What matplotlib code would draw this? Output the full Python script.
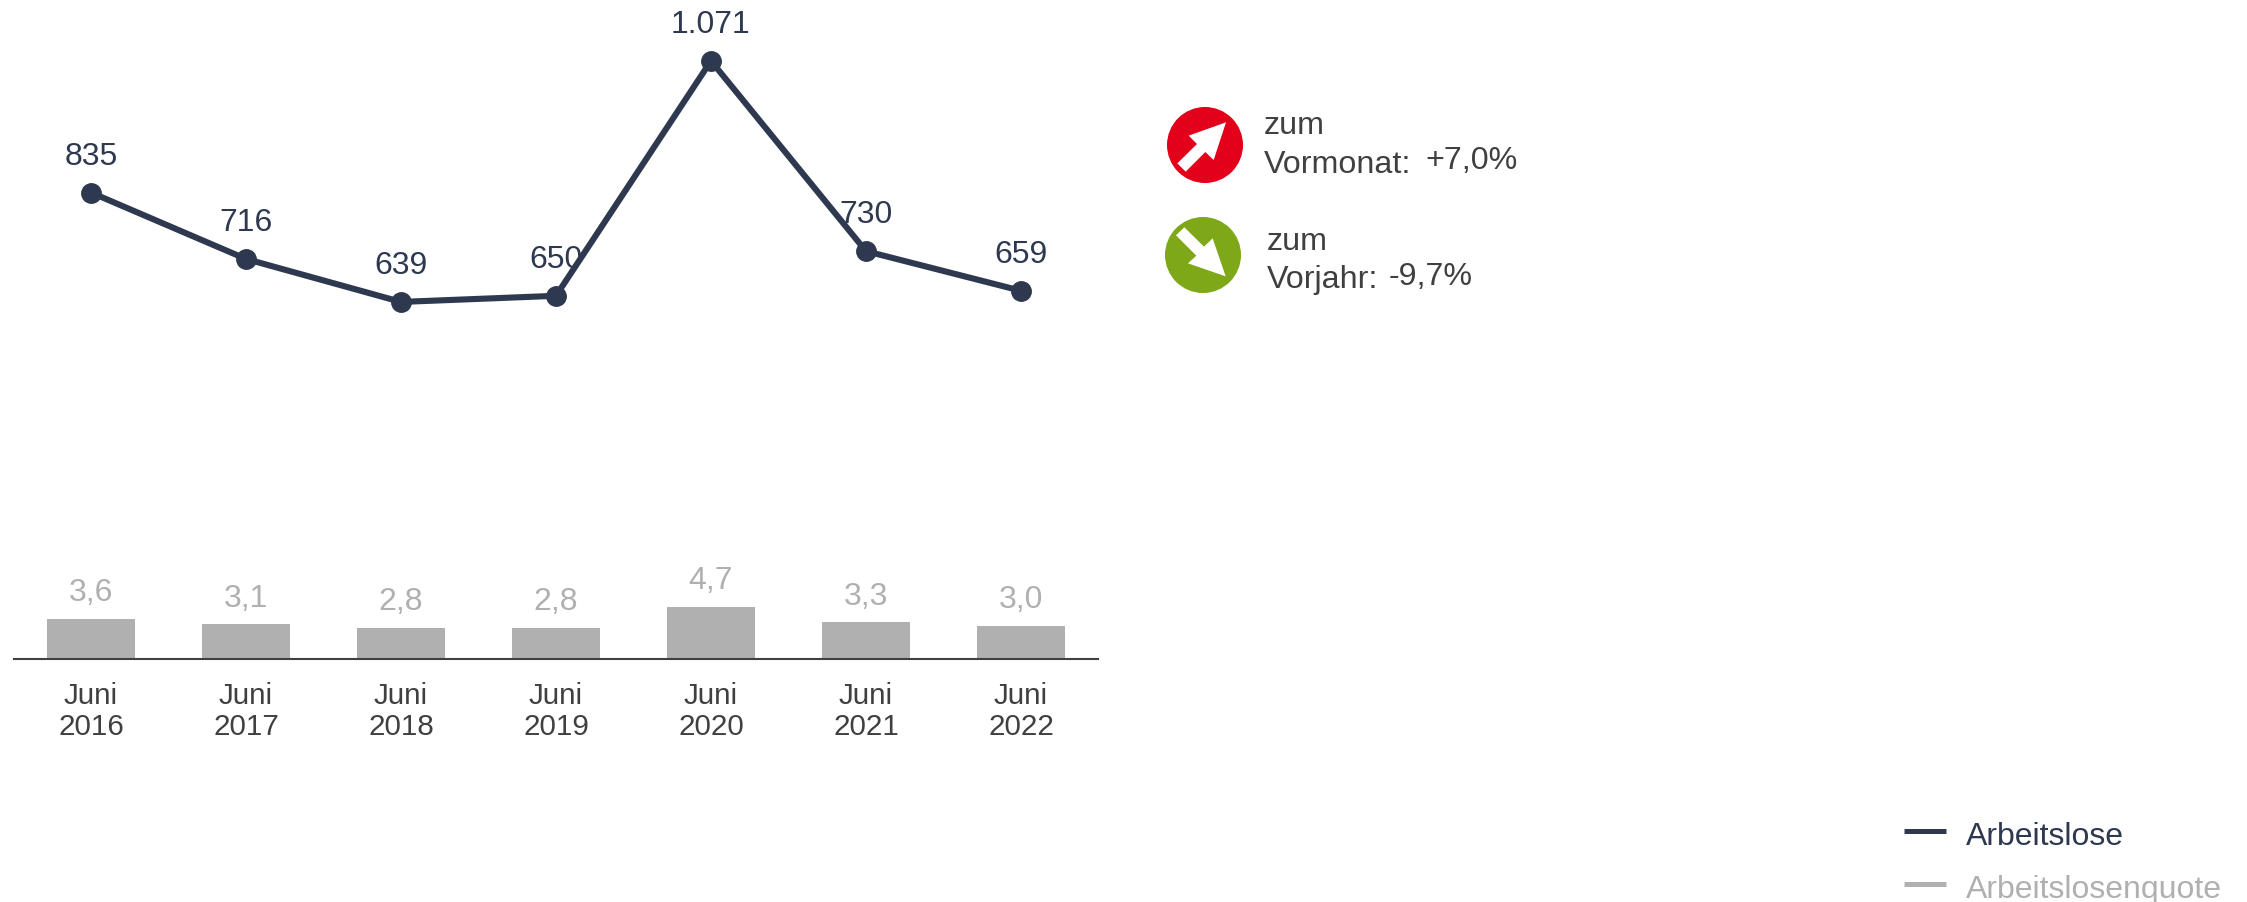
import matplotlib
matplotlib.use("Agg")
import matplotlib.pyplot as plt
from matplotlib.patches import Circle, Polygon

plt.rcParams["font.family"] = ["Liberation Sans", "DejaVu Sans"]

W, H = 2247, 902

# --- data ---
months = ["Juni\n2016", "Juni\n2017", "Juni\n2018", "Juni\n2019", "Juni\n2020", "Juni\n2021", "Juni\n2022"]
arbeitslose = [835, 716, 639, 650, 1071, 730, 659]
arbeitslose_labels = ["835", "716", "639", "650", "1.071", "730", "659"]
quote = [3.6, 3.1, 2.8, 2.8, 4.7, 3.3, 3.0]
quote_labels = ["3,6", "3,1", "2,8", "2,8", "4,7", "3,3", "3,0"]

NAVY = "#2e3950"
GREY = "#b0b0b0"
TEXT = "#404040"

fig = plt.figure(figsize=(W / 100, H / 100), dpi=100, facecolor="white")

# --- chart: pixel box x 14..1098, baseline at y=658.5 ---
rect = [14 / W, 1 - 658.5 / H, 1084 / W, 658.5 / H]
ax_bar = fig.add_axes(rect)
ax_line = fig.add_axes(rect, sharex=ax_bar)
ax_line.patch.set_visible(False)

x = list(range(len(months)))

ax_bar.bar(x, quote, width=0.57, color=GREY, zorder=2)
ax_bar.set_xlim(-0.497, 6.497)
ax_bar.set_ylim(0, 658.5 / 11.0)
for xi, v, lab in zip(x, quote, quote_labels):
    ax_bar.annotate(lab, (xi, v), xytext=(0, 7.5), textcoords="offset points",
                    ha="center", va="bottom", fontsize=23, color=GREY)

ax_line.plot(x, arbeitslose, color=NAVY, lw=4.4, marker="o", ms=14, zorder=3)
ax_line.set_ylim(0, 658.5 / 0.558)
for xi, v, lab in zip(x, arbeitslose, arbeitslose_labels):
    ax_line.annotate(lab, (xi, v), xytext=(0, 15), textcoords="offset points",
                     ha="center", va="bottom", fontsize=23, color=NAVY)

for a in (ax_bar, ax_line):
    for side in ("top", "left", "right"):
        a.spines[side].set_visible(False)
    a.set_yticks([])
ax_line.spines["bottom"].set_visible(False)
ax_bar.spines["bottom"].set_color(TEXT)
ax_bar.spines["bottom"].set_linewidth(1.5)
ax_bar.spines["bottom"].set_zorder(5)
ax_bar.set_xticks(x)
ax_bar.set_xticklabels(months, fontsize=21.3, color=TEXT, linespacing=1.15)
ax_bar.tick_params(axis="x", length=0, pad=17)
ax_line.tick_params(axis="x", length=0, labelbottom=False)

# --- overlay in picture pixels for icons and legend ---
ov = fig.add_axes([0, 0, 1, 1])
ov.set_xlim(0, W)
ov.set_ylim(H, 0)
ov.axis("off")
ov.patch.set_visible(False)


def zoomed(points):
    return [(1120 + px / 3, 80 + py / 3) for px, py in points]


ov.add_patch(Circle((1205, 145), 38, color="#e2001a", lw=0))
ov.add_patch(Polygon(zoomed([(318, 127), (281, 240), (256, 216), (197, 275),
                             (172, 250), (231, 192), (206, 167)]), color="white", lw=0))
ov.add_patch(Circle((1203, 255), 38, color="#7fa819", lw=0))
ov.add_patch(Polygon(zoomed([(317, 589), (204, 550), (229, 527), (168, 466),
                             (193, 442), (252, 500), (278, 475)]), color="white", lw=0))

info = [
    (1264, 134, "zum"),
    (1264, 173, "Vormonat:"),
    (1425, 169, "+7,0%"),
    (1267, 250, "zum"),
    (1267, 288, "Vorjahr:"),
    (1389, 285, "-9,7%"),
]
for px, py, s in info:
    ov.text(px, py, s, fontsize=23.2, color=TEXT, ha="left", va="baseline")

legend = [(831, 845, "Arbeitslose", NAVY), (884, 898, "Arbeitslosenquote", GREY)]
for ly, ty, s, c in legend:
    ov.plot([1904, 1946], [ly, ly], color=c, lw=3.6, solid_capstyle="butt")
    ov.text(1966, ty, s, fontsize=23, color=c, ha="left", va="baseline")

fig.savefig("out.png", dpi=100)
